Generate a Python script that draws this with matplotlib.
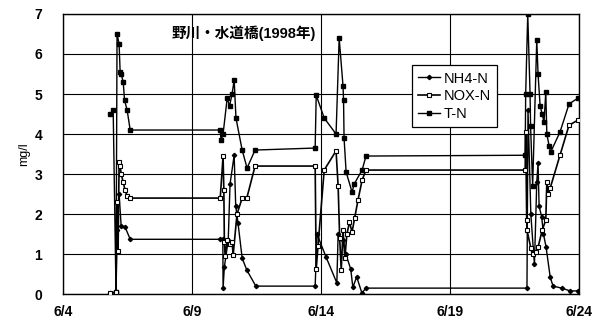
import matplotlib
matplotlib.use('Agg')
import matplotlib.pyplot as plt

plt.rcParams['font.family'] = ['Liberation Sans', 'Noto Sans CJK JP', 'DejaVu Sans']
plt.rcParams['font.weight'] = 'bold'

# x = day of June (float), y = mg/l
NH4_DAY = [5.82, 6.05, 6.09, 6.17, 6.25, 6.40, 6.60, 10.09, 10.19, 10.20, 10.25, 10.40, 10.47,
           10.63, 10.69, 10.78, 10.94, 11.12, 11.47, 13.77, 13.84, 14.19, 14.61, 14.66, 14.85,
           14.96, 15.15, 15.23, 15.38, 15.58, 15.74, 21.98, 22.02, 22.13, 22.23, 22.27, 22.36,
           22.41, 22.45, 22.55, 22.62, 22.72, 22.88, 22.99, 23.33, 23.65, 23.96]
NH4_VAL = [0.02, 0.05, 1.6, 2.5, 1.7, 1.68, 1.37, 1.37, 1.37, 0.15, 0.68, 1.35, 2.75,
           3.47, 2.2, 1.77, 0.9, 0.6, 0.2, 0.2, 1.5, 0.93, 0.28, 1.5, 1.35,
           1.0, 0.62, 0.17, 0.43, 0.03, 0.15, 0.15, 4.6, 2.0, 1.08, 0.75, 2.8,
           3.27, 2.2, 1.93, 1.5, 1.18, 0.43, 0.2, 0.15, 0.08, 0.08]

NOX_DAY = [5.82, 6.05, 6.09, 6.13, 6.17, 6.21, 6.25, 6.33, 6.40, 6.48, 6.60, 10.09, 10.20,
           10.23, 10.25, 10.28, 10.36, 10.45, 10.55, 10.59, 10.74, 10.94, 11.12, 11.44, 13.77,
           13.81, 13.88, 14.12, 14.58, 14.66, 14.72, 14.78, 14.85, 14.92, 15.00, 15.10, 15.20,
           15.30, 15.43, 15.59, 15.74, 21.91, 21.93, 21.97, 21.98, 22.13, 22.20, 22.33, 22.41,
           22.57, 22.71, 22.75, 22.81, 22.88, 23.26, 23.61, 23.96]
NOX_VAL = [0.03, 0.05, 2.3, 1.08, 3.3, 3.2, 3.0, 2.8, 2.6, 2.45, 2.4, 2.4, 3.45,
           2.6, 1.3, 0.95, 1.35, 1.25, 1.3, 0.97, 2.0, 2.4, 2.4, 3.2, 3.2,
           0.62, 1.2, 3.1, 3.58, 2.7, 1.4, 0.6, 1.6, 0.9, 1.5, 1.8, 1.55,
           1.9, 2.35, 2.85, 3.1, 3.1, 4.05, 1.85, 1.6, 1.15, 1.0, 1.05, 1.17,
           1.6, 1.85, 2.8, 2.5, 2.65, 3.47, 4.22, 4.35]

TN_DAY = [5.82, 5.94, 6.05, 6.09, 6.17, 6.21, 6.25, 6.33, 6.38, 6.48, 6.60, 10.09, 10.12,
          10.20, 10.36, 10.45, 10.55, 10.63, 10.70, 10.94, 11.13, 11.44, 13.77, 13.81, 14.12,
          14.58, 14.70, 14.85, 14.87, 14.89, 14.97, 15.20, 15.28, 15.59, 15.74, 21.91, 21.93,
          22.01, 22.10, 22.12, 22.20, 22.36, 22.41, 22.49, 22.57, 22.64, 22.71, 22.75, 22.84,
          22.90, 23.26, 23.61, 23.96]
TN_VAL = [4.5, 4.6, 0.05, 6.5, 6.25, 5.55, 5.5, 5.3, 4.85, 4.6, 4.1, 4.1, 3.85,
          4.0, 4.9, 4.7, 5.0, 5.35, 4.4, 3.6, 3.15, 3.6, 3.65, 4.97, 4.4,
          4.0, 6.4, 5.2, 4.85, 3.9, 3.05, 2.55, 2.75, 3.1, 3.45, 3.47, 5.0,
          7.0, 5.0, 4.2, 2.7, 6.35, 5.5, 4.7, 4.5, 4.3, 5.05, 4.0, 3.7,
          3.55, 4.05, 4.75, 4.9]

X_TICKS = [4, 9, 14, 19, 24]
X_LABELS = ['6/4', '6/9', '6/14', '6/19', '6/24']
Y_TICKS = [0, 1, 2, 3, 4, 5, 6, 7]
TITLE = '野川・水道橋(1998年)'

fig = plt.figure(figsize=(6.07, 3.25), dpi=100)
ax = fig.add_axes([0.104, 0.095, 0.850, 0.862])

ax.plot(NH4_DAY, NH4_VAL, color='black', lw=1.0, marker='D', markersize=2.2,
        markerfacecolor='black', label='NH4-N', zorder=3)
ax.plot(NOX_DAY, NOX_VAL, color='black', lw=1.2, marker='s', markersize=3.5,
        markerfacecolor='white', markeredgewidth=0.8, label='NOX-N', zorder=4)
ax.plot(TN_DAY, TN_VAL, color='black', lw=1.0, marker='s', markersize=3.0,
        markerfacecolor='black', label='T-N', zorder=3)

ax.set_xlim(4, 24)
ax.set_ylim(0, 7)
ax.set_xticks(X_TICKS)
ax.set_xticklabels(X_LABELS)
ax.set_yticks(Y_TICKS)
ax.tick_params(length=0, labelsize=10)
ax.tick_params(axis='y', pad=15)
ax.tick_params(axis='x', pad=8)
ax.grid(True, color='black', lw=0.8, zorder=0)
for s in ax.spines.values():
    s.set_linewidth(1.0)
ax.set_ylabel('mg/l', fontsize=9, fontweight='normal', labelpad=3)

ax.text(0.211, 0.932, TITLE, transform=ax.transAxes, fontsize=10.5, fontweight='bold',
        va='center', ha='left', zorder=5)

leg = ax.legend(loc='upper left', bbox_to_anchor=(0.676, 0.818), borderaxespad=0,
                fontsize=10.5, frameon=True, fancybox=False, edgecolor='black',
                framealpha=1, handlelength=1.5, handletextpad=0.2, borderpad=0.45,
                labelspacing=0.25)
leg.get_frame().set_linewidth(0.9)
for t in leg.get_texts():
    t.set_fontweight('normal')

fig.savefig('out.png', dpi=100)
